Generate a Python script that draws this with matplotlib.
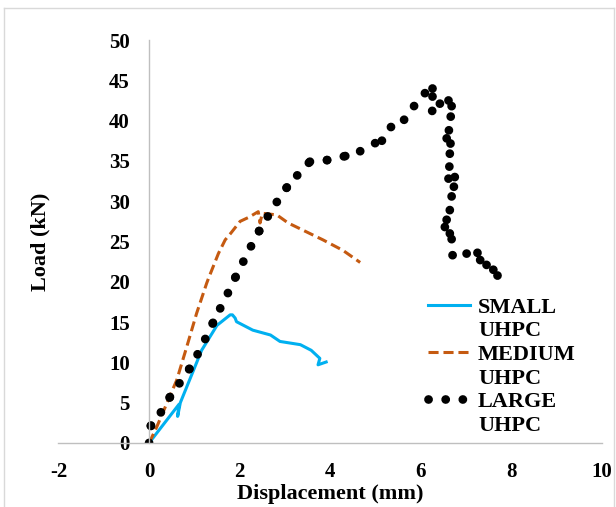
import matplotlib
matplotlib.use("Agg")
import matplotlib.pyplot as plt
from matplotlib.lines import Line2D
from matplotlib.collections import LineCollection

plt.rcParams['font.family'] = ['Liberation Serif', 'DejaVu Serif']
plt.rcParams['font.weight'] = 'bold'
plt.rcParams['axes.unicode_minus'] = False

# SMALL UHPC
small_x = [0, 0.66, 0.63, 0.69, 1.16, 1.5, 1.79, 1.84, 1.9, 1.93, 2.29, 2.68, 2.89, 3.34, 3.58, 3.77, 3.73, 3.91]
small_y = [0, 4.8, 3.3, 5.0, 11.5, 14.6, 15.9, 15.9, 15.5, 15.05, 14.0, 13.4, 12.6, 12.2, 11.5, 10.5, 9.7, 10.05]

# MEDIUM UHPC
med_x = [0, 0.17, 0.39, 0.61, 0.83, 1.05, 1.27, 1.31, 1.53, 1.68, 1.8, 2.01, 2.2, 2.41, 2.45, 2.5, 2.82, 3.07, 3.4, 3.84, 4.28, 4.66]
med_y = [0, 2.0, 4.9, 7.8, 11.9, 16.1, 19.8, 20.4, 23.5, 25.2, 26.0, 27.5, 28.0, 28.7, 27.3, 28.5, 28.3, 27.3, 26.4, 25.2, 23.9, 22.4]

# LARGE UHPC
large_x = [0, 0.04, 0.26, 0.46, 0.67, 0.89, 1.07, 1.24, 1.41, 1.57, 1.74, 1.91, 2.08, 2.25, 2.43,
           2.62, 2.82, 3.04, 3.27, 3.55, 3.93, 4.33, 4.66, 4.99, 5.14, 5.34, 5.63, 5.85, 6.09, 6.25,
           6.25, 6.25, 6.42, 6.61, 6.68, 6.66, 6.62, 6.57, 6.64, 6.64, 6.63, 6.61, 6.75, 6.73, 6.68,
           6.64, 6.57, 6.53, 6.64, 6.68, 6.70, 7.01, 7.25, 7.31, 7.45, 7.60, 7.68, 7.68]
large_y = [0, 2.15, 3.8, 5.7, 7.4, 9.2, 11.0, 12.9, 14.9, 16.7, 18.6, 20.6, 22.5, 24.4, 26.3,
           28.1, 29.9, 31.7, 33.2, 34.9, 35.1, 35.6, 36.2, 37.2, 37.5, 39.2, 40.1, 41.8, 43.4, 44.1,
           43.0, 41.2, 42.1, 42.5, 41.8, 40.5, 38.8, 37.8, 37.2, 35.9, 34.3, 32.8, 33.0, 31.8, 30.6,
           28.9, 27.7, 26.8, 26.0, 25.3, 23.3, 23.5, 23.6, 22.7, 22.1, 21.5, 20.8, 20.2]

x_ticks = [-2, 0, 2, 4, 6, 8, 10]
y_ticks = [0, 5, 10, 15, 20, 25, 30, 35, 40, 45, 50]

fig = plt.figure(figsize=(6.16, 5.07), dpi=100)
ax = fig.add_axes([58.5/616, 1 - 443/507, (602 - 58.5)/616, (443 - 40)/507])

l_small, = ax.plot(small_x, small_y, color='#00B0F0', lw=2.2, solid_joinstyle='round')
l_med, = ax.plot(med_x, med_y, color='#C55A11', lw=2.2, linestyle=(0, (3.3, 1.6)), dash_capstyle='butt')

# round-dot line, dash pattern restarting at every data point
dot_style = (0, (0.01, 1.95))
segs = [[(large_x[i], large_y[i]), (large_x[i + 1], large_y[i + 1])] for i in range(len(large_x) - 1)]
lc = LineCollection(segs, colors='black', linewidths=6.3, linestyles=[dot_style], capstyle='round')
ax.add_collection(lc)
l_large = Line2D([], [], color='black', lw=6.3, linestyle=dot_style, dash_capstyle='round')

ax.set_xlim(-2, 10)
ax.set_ylim(0, 50)
ax.set_xticks(x_ticks)
ax.set_yticks(y_ticks)
ax.tick_params(length=0, labelsize=15)
ax.tick_params(axis='x', pad=14)
ax.tick_params(axis='y', pad=14)
for lab in ax.get_xticklabels() + ax.get_yticklabels():
    lab.set_fontweight('bold')

ax.spines['top'].set_visible(False)
ax.spines['right'].set_visible(False)
ax.spines['left'].set_position(('data', 0))
for s in ['left', 'bottom']:
    ax.spines[s].set_color('#BFBFBF')
    ax.spines[s].set_linewidth(1.0)

ax.set_xlabel('Displacement (mm)', fontsize=16, fontweight='bold')
ax.xaxis.set_label_coords(0.5, -0.127)
ax.xaxis.label.set_verticalalignment('center')
ax.set_ylabel('Load (kN)', fontsize=16, fontweight='bold')
ax.yaxis.set_label_coords((40 - 58.5) / 543.5, 0.5)
ax.yaxis.label.set_verticalalignment('center')

empty = Line2D([], [], linestyle='none')
leg = ax.legend([l_small, empty, l_med, empty, l_large, empty],
                ['SMALL', 'UHPC', 'MEDIUM', 'UHPC', 'LARGE', 'UHPC'],
                loc='upper left', bbox_to_anchor=((428 - 58.5) / 543.5, 1 - (297 - 40) / 403),
                frameon=False, prop={'size': 16, 'weight': 'bold'},
                labelspacing=0.14, handlelength=1.9, handletextpad=0.35, borderpad=0, borderaxespad=0)

# light gray chart border
for xs, ys in [([4, 4], [507, 8]), ([4, 614], [8, 8]), ([614, 614], [8, 507])]:
    fig.add_artist(Line2D([x / 616 for x in xs], [1 - y / 507 for y in ys], color='#D9D9D9', lw=1.0))

fig.savefig('out.png', dpi=100)
